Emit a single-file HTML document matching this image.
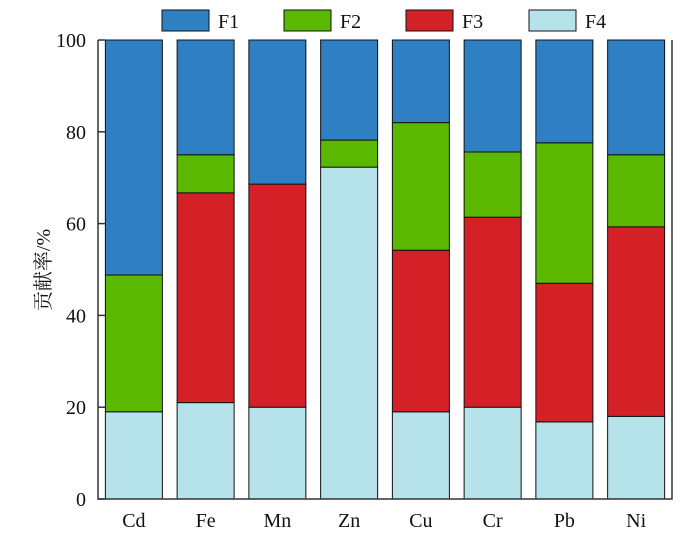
<!DOCTYPE html>
<html><head><meta charset="utf-8"><style>
html,body{margin:0;padding:0;background:#fff;}
svg{display:block;font-family:"Liberation Serif","Noto Serif CJK SC",serif;}
</style></head><body>
<svg id="chart" width="700" height="533"></svg>
<script>
const categories=["Cd","Fe","Mn","Zn","Cu","Cr","Pb","Ni"];
const seriesNames=["F1","F2","F3","F4"];
const f4=[19,21,20,72.3,19,20,16.8,18];
const f3=[0,45.7,48.6,0,35.2,41.4,30.2,41.3];
const f2=[29.8,8.3,0,5.9,27.8,14.2,30.6,15.7];
const f1=[51.2,25,31.4,21.8,18,24.4,22.4,25];
const yTicks=[0,20,40,60,80,100];
const colors={F1:"#2f80c3",F2:"#5ab800",F3:"#d42027",F4:"#b6e3ea"};
const NS="http://www.w3.org/2000/svg";
const svg=document.getElementById("chart");
const L=98,R=672,T=40,B=499;
const y=v=>B-(v/100)*(B-T);
const step=(R-L)/categories.length;
const bw=57;
const x=i=>L+step*i+(step-bw)/2;
function mk(tag,attrs,parent){const e=document.createElementNS(NS,tag);for(const k in attrs)e.setAttribute(k,attrs[k]);(parent||svg).appendChild(e);return e;}
const stackOrder=[["F4",f4],["F3",f3],["F2",f2],["F1",f1]];
categories.forEach((c,i)=>{
  let base=0;
  stackOrder.forEach(([n,arr])=>{
    const v=arr[i];
    if(v>0){
      const r=mk("rect",{x:x(i),y:y(base+v),width:bw,height:y(base)-y(base+v),fill:colors[n],stroke:"#111","stroke-width":1});
      
      
    }
    base+=v;
  });
  const t=mk("text",{x:x(i)+bw/2,y:527,"text-anchor":"middle","font-size":20,fill:"#111"});
  t.textContent=c;
  
  
});
const ax=mk("path",{d:`M${L},${T}V${B}H${R}V${T}`,fill:"none",stroke:"#333","stroke-width":1.5});


yTicks.forEach(v=>{
  const tk=mk("line",{x1:L,x2:L+7,y1:y(v),y2:y(v),stroke:"#333","stroke-width":1.5});
  
  
  const t=mk("text",{x:L-12,y:y(v)+7,"text-anchor":"end","font-size":20,fill:"#111"});
  t.textContent=v;
  
  
});
const yt=mk("text",{transform:"translate(50,270) rotate(-90)","text-anchor":"middle","font-size":20,fill:"#111"});
yt.textContent="贡献率/%";


const lx=[162,284,406,529];
seriesNames.forEach((n,i)=>{
  const g=mk("g",{});
  
  
  mk("rect",{x:lx[i],y:10,width:47,height:21,fill:colors[n],stroke:"#111","stroke-width":1},g);
  const t=mk("text",{x:lx[i]+56,y:28,"font-size":20,fill:"#111"},g);
  t.textContent=n;
});
</script>
</body></html>
